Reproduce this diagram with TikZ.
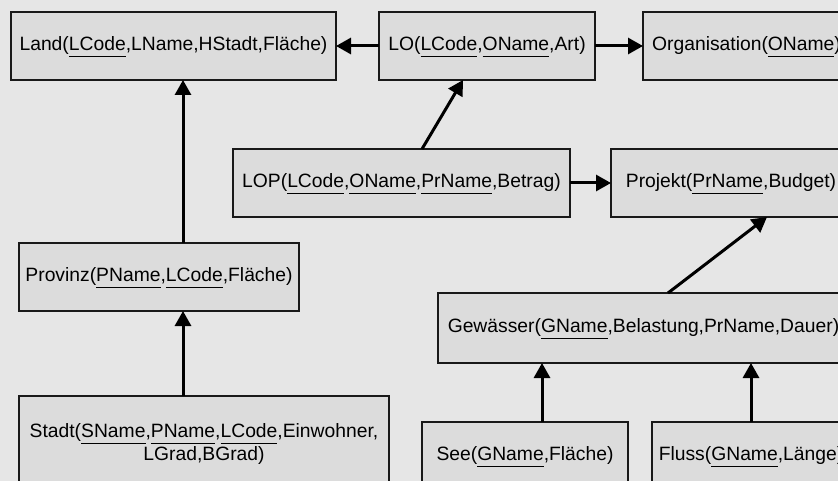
\documentclass[tikz,border=0pt]{standalone}
\usepackage{fontspec}
\setmainfont{Liberation Sans}
\usetikzlibrary{arrows.meta}
\definecolor{bgcol}{RGB}{230,230,230}
\definecolor{boxcol}{RGB}{220,220,220}
\newcommand\ukey[1]{\setbox0\hbox{#1}\rlap{\smash{\raisebox{-6.3pt}{\rule{\wd0}{1.5pt}}}}\box0}
\tikzset{
  relbox/.style={draw=black!90, fill=boxcol, line width=1.6pt, rectangle, inner sep=0pt, outer sep=0pt,
    minimum height=68pt, font=\fontsize{19.3}{22.5}\selectfont, align=center},
  arr/.style={line width=3pt, -{Triangle[length=15pt,width=16pt]}}
}
\begin{document}
\begin{tikzpicture}[x=1pt,y=-1pt]
\useasboundingbox (0,0) rectangle (838,481);
\fill[bgcol] (0,0) rectangle (838,481);
\clip (0,0) rectangle (838,481);
\node[relbox, minimum width=325pt] (land) at (173.5,46) {Land(\ukey{LCode},LName,HStadt,Fläche)};
\node[relbox, minimum width=216pt] (lo) at (487,46) {LO(\ukey{LCode},\ukey{OName},Art)};
\node[relbox, minimum width=207pt] (org) at (746.5,46) {Organisation(\ukey{OName})};
\node[relbox, minimum width=337pt] (lop) at (401.5,183) {LOP(\ukey{LCode},\ukey{OName},\ukey{PrName},Betrag)};
\node[relbox, minimum width=240pt] (proj) at (731,183) {Projekt(\ukey{PrName},Budget)};
\node[relbox, minimum width=280pt] (prov) at (159,277) {Provinz(\ukey{PName},\ukey{LCode},Fläche)};
\node[relbox, minimum width=411pt, minimum height=70pt] (gew) at (643.5,328) {Gewässer(\ukey{GName},Belastung,PrName,Dauer)};
\node[relbox, minimum width=370pt, minimum height=96pt] (stadt) at (204,444) {Stadt(\ukey{SName},\ukey{PName},\ukey{LCode},Einwohner,\\LGrad,BGrad)};
\node[relbox, minimum width=206pt] (see) at (525,456) {See(\ukey{GName},Fläche)};
\node[relbox, minimum width=198pt] (fluss) at (751,456) {Fluss(\ukey{GName},Länge)};
\draw[arr] (lo.west) -- (land.east);
\draw[arr] (lo.east) -- (org.west);
\draw[arr] ([xshift=20.5pt]lop.north) -- ([xshift=-24pt]lo.south);
\draw[arr] (lop.east) -- (proj.west);
\draw[arr] ([xshift=24.5pt]gew.north) -- ([xshift=36pt]proj.south);
\draw[arr] ([xshift=24pt]prov.north) -- ([xshift=9.5pt]land.south);
\draw[arr] ([xshift=-21pt]stadt.north) -- ([xshift=24pt]prov.south);
\draw[arr] ([xshift=17pt]see.north) -- ([xshift=-101.5pt]gew.south);
\draw[arr] (fluss.north) -- ([xshift=107.5pt]gew.south);
\end{tikzpicture}
\end{document}
